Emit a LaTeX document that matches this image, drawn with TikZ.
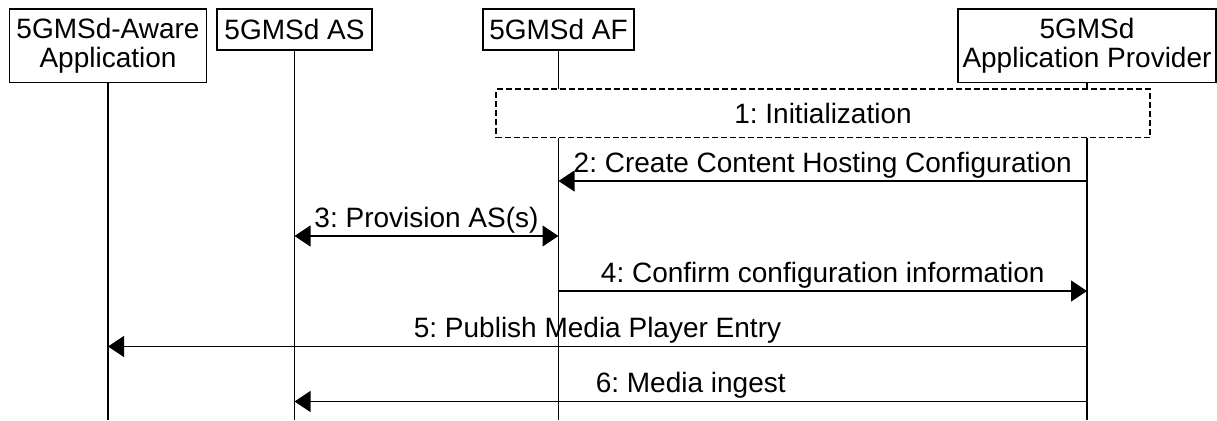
\documentclass[tikz,border=0pt]{standalone}
\usepackage{fontspec}
\setmainfont{Liberation Sans}
\frenchspacing
\usetikzlibrary{arrows.meta}
\tikzset{
    actor/.style={draw,line width=1.3pt,align=center,inner sep=0pt,anchor=north,
        font=\fontsize{28}{29}\selectfont},
    lifeline/.style={line width=1.3pt},
    msg/.style={line width=1.3pt,-{Triangle[length=16pt,width=21pt]}},
    lbl/.style={anchor=base,yshift=9pt,inner sep=0pt,font=\fontsize{28}{29}\selectfont},
}
\begin{document}
\begin{tikzpicture}[x=1pt,y=-1pt]
    \useasboundingbox (0,0) rectangle (1217,420);
    \coordinate (bot) at (0,420);
    \node[actor,minimum width=197,minimum height=73] (app) at (108,8.5) {5GMSd-Aware\\Application};
    \node[actor,minimum width=155,minimum height=41] (as) at (294.5,8.5) {5GMSd AS};
    \node[actor,minimum width=151,minimum height=41] (af) at (558.5,8.5) {5GMSd AF};
    \node[actor,minimum width=258,minimum height=73] (prov) at (1087,8.5) {5GMSd\\Application Provider};
    \draw[lifeline] (app.south) -- (app.south |- bot);
    \draw[lifeline] (as.south) -- (as.south |- bot);
    \draw[lifeline] (af.south) -- (af.south |- bot);
    \draw[lifeline] (prov.south) -- (prov.south |- bot);
    \node[draw,dash pattern=on 6pt off 3pt,line width=1.3pt,fill=white,inner sep=0pt,
        minimum width=654,minimum height=48.5,font=\fontsize{28}{29}\selectfont] (init) at (823,113.25) {1: Initialization};
    \coordinate (r2) at (0,181);
    \coordinate (r3) at (0,236);
    \coordinate (r4) at (0,291);
    \coordinate (r5) at (0,346.5);
    \coordinate (r6) at (0,401.5);
    \draw[msg] (prov |- r2) -- node[lbl] (l2) {2: Create Content Hosting Configuration} (af |- r2);
    \draw[msg,{Triangle[length=16pt,width=21pt]}-{Triangle[length=16pt,width=21pt]}] (as |- r3) -- node[lbl] (l3) {3: Provision AS(s)} (af |- r3);
    \draw[msg] (af |- r4) -- node[lbl] (l4) {4: Confirm configuration information} (prov |- r4);
    \draw[msg] (prov |- r5) -- node[lbl] (l5) {5: Publish Media Player Entry} (app |- r5);
    \draw[msg] (prov |- r6) -- node[lbl] (l6) {6: Media ingest} (as |- r6);
\end{tikzpicture}
\end{document}
